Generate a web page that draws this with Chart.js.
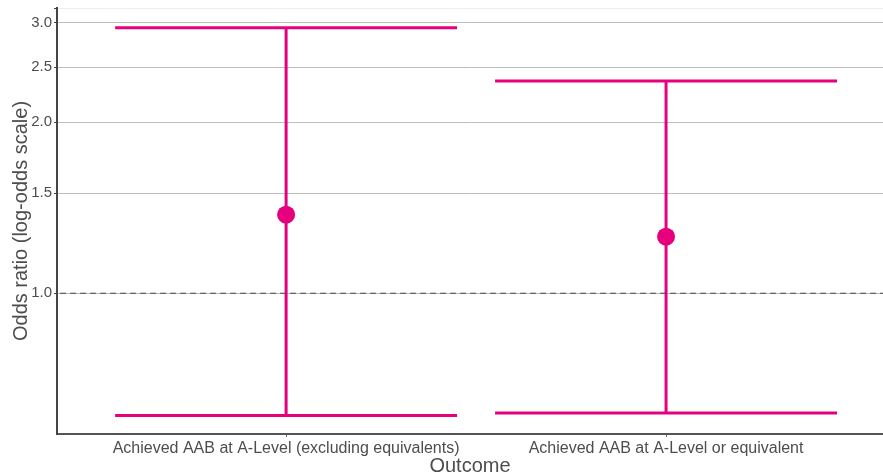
<!DOCTYPE html>
<html>
<head>
<meta charset="utf-8">
<script src="https://cdn.jsdelivr.net/npm/chart.js@4.4.1/dist/chart.umd.min.js"></script>
<style>
  html, body { margin: 0; padding: 0; background: #fff; }
  #wrap { width: 883px; height: 472px; }
</style>
</head>
<body>
<div id="wrap"><canvas id="oddsChart" width="883" height="472"></canvas></div>
<script>
// data
const outcomes = ['Achieved AAB at A-Level (excluding equivalents)', 'Achieved AAB at A-Level or equivalent']
const oddsRatio = [1.375, 1.258]
const lowerCI = [0.609, 0.615]
const upperCI = [2.936, 2.366]
const yTicks = [1.0, 1.5, 2.0, 2.5, 3.0]

const pink = '#e6007e'
const capHalf = 0.45
const yMin = 0.565
const yMax = 3.18

// build error bar segments for each outcome
const errorBars = []
outcomes.forEach((name, i) => {
  const c = i + 1
  errorBars.push({ data: [{x: c, y: lowerCI[i]}, {x: c, y: upperCI[i]}] })
  errorBars.push({ data: [{x: c - capHalf, y: lowerCI[i]}, {x: c + capHalf, y: lowerCI[i]}] })
  errorBars.push({ data: [{x: c - capHalf, y: upperCI[i]}, {x: c + capHalf, y: upperCI[i]}] })
})

const lineSets = errorBars.map(seg => ({
  type: 'scatter',
  data: seg.data,
  showLine: true,
  borderColor: pink,
  borderWidth: 3,
  pointRadius: 0,
  pointHoverRadius: 0,
}))

// reference line at odds ratio 1
const refLine = {
  type: 'scatter',
  data: [{x: 0.3, y: 1}, {x: 2.7, y: 1}],
  showLine: true,
  borderColor: '#444',
  borderWidth: 1.2,
  borderDash: [6, 4],
  pointRadius: 0,
  pointHoverRadius: 0,
}

const pointSet = {
  type: 'scatter',
  data: oddsRatio.map((v, i) => ({x: i + 1, y: v})),
  backgroundColor: pink,
  borderWidth: 0,
  pointRadius: 9,
  pointHoverRadius: 9,
}

const font = 'Liberation Sans, Arial, sans-serif'

const ctx = document.getElementById('oddsChart').getContext('2d')
new Chart(ctx, {
  type: 'scatter',
  data: { datasets: [refLine, ...lineSets, pointSet] },
  options: {
    responsive: false,
    animation: false,
    layout: { padding: { top: 8, right: 0, bottom: 0, left: 0 }, autoPadding: false },
    plugins: { legend: { display: false }, tooltip: { enabled: false } },
    scales: {
      x: {
        type: 'linear',
        min: 0.397,
        max: 2.571,
        afterBuildTicks: s => { s.ticks = [{value: 1}, {value: 2}] },
        afterFit: s => { s.height = 38; s.paddingLeft = 0; s.paddingRight = 0 },
        ticks: {
          callback: v => outcomes[v - 1],
          color: '#4d4d4d',
          font: { family: font, size: 16 },
          padding: 2,
          maxRotation: 0,
          autoSkip: false,
        },
        grid: { drawOnChartArea: false, drawTicks: true, tickLength: 3, color: '#666' },
        border: { color: '#555', width: 2 },
        title: {
          display: true,
          text: 'Outcome',
          color: '#4d4d4d',
          font: { family: font, size: 20 },
          padding: { top: 0, bottom: -6 },
        },
      },
      y: {
        type: 'logarithmic',
        min: yMin,
        max: yMax,
        afterBuildTicks: s => { s.ticks = [...yTicks, yMax].map(v => ({value: v})) },
        afterFit: s => { s.width = 57; s.paddingTop = 0; s.paddingBottom = 0 },
        ticks: {
          callback: v => yTicks.includes(v) ? v.toFixed(1) : '',
          color: '#4d4d4d',
          font: { family: font, size: 15 },
          padding: 2,
        },
        grid: {
          drawTicks: true,
          tickLength: 3,
          tickColor: '#444',
          color: c => c.tick && c.tick.value === yMax ? '#eeeeee' : '#bdbdbd',
          lineWidth: 1,
        },
        border: { color: '#444', width: 2 },
        title: {
          display: true,
          text: 'Odds ratio (log-odds scale)',
          color: '#4d4d4d',
          font: { family: font, size: 20 },
          padding: { top: 9, bottom: 0 },
        },
      },
    },
  },
})
</script>
</body>
</html>
